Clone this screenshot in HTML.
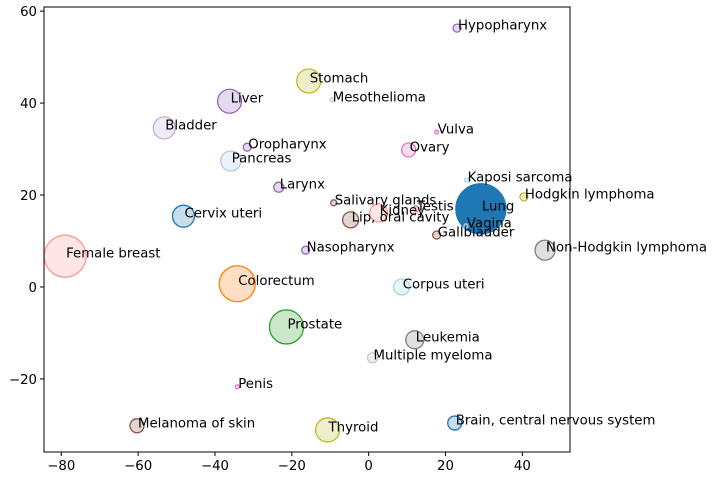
<!DOCTYPE html>
<html><head><meta charset="utf-8"><style>
body{margin:0;background:#fff}
svg text{font-family:"DejaVu Sans","Liberation Sans",sans-serif;font-size:13.3px;fill:#000}
</style></head><body>
<svg id="chart" width="718" height="479" xmlns="http://www.w3.org/2000/svg"></svg>
<script>
const names=["Hypopharynx","Stomach","Mesothelioma","Liver","Bladder","Vulva","Oropharynx","Ovary","Pancreas","Kaposi sarcoma","Larynx","Hodgkin lymphoma","Salivary glands","Vagina","Lung","Cervix uteri","Kidney","Testis","Lip, oral cavity","Gallbladder","Non-Hodgkin lymphoma","Female breast","Nasopharynx","Colorectum","Corpus uteri","Prostate","Leukemia","Multiple myeloma","Penis","Melanoma of skin","Thyroid","Brain, central nervous system"];
const xVals=[23.0,-15.6,-9.6,-36.2,-53.2,17.7,-31.6,10.4,-35.9,25.5,-23.4,40.4,-9.1,25.3,29.2,-48.2,2.6,12.3,-4.7,17.7,45.9,-79.0,-16.4,-34.2,8.6,-21.4,12.0,1.0,-34.2,-60.3,-10.7,22.4];
const yVals=[56.3,44.8,40.7,40.4,34.6,33.7,30.4,29.8,27.4,23.3,21.7,19.6,18.3,13.3,17.0,15.4,16.1,17.0,14.6,11.3,8.0,6.7,8.0,0.7,0,-8.7,-11.5,-15.4,-21.7,-30.2,-31.1,-29.6];
const sizes=[4,12,2,12,11,2,4,7,10,2,5,4,3,2,25,11,9,3,8,4,10,21,4,18,8,17,9,5,2,7,12,7];
const colors=["#9467bd","#bcbd22","#c7c7c7","#9467bd","#c5b0d5","#e377c2","#9467bd","#e377c2","#aec7e8","#9edae5","#9467bd","#bcbd22","#8c564b","#9edae5","#1f77b4","#1f77b4","#ff9896","#e377c2","#8c564b","#8c564b","#7f7f7f","#ff9896","#9467bd","#ff7f0e","#9edae5","#2ca02c","#7f7f7f","#c7c7c7","#e377c2","#8c564b","#bcbd22","#1f77b4"];
const xTicks=[-80,-60,-40,-20,0,20,40];
const yTicks=[-20,0,20,40,60];
const svg=document.getElementById('chart');
const NS='http://www.w3.org/2000/svg';
const L=44,R=570,T=7,B=452;
const X0=-84.5,X1=52.4,Y0=-35.9,Y1=60.9;
const sx=v=>L+(v-X0)/(X1-X0)*(R-L);
const sy=v=>B-(v-Y0)/(Y1-Y0)*(B-T);
function mk(tag,attrs){const e=document.createElementNS(NS,tag);for(const k in attrs)e.setAttribute(k,attrs[k]);svg.appendChild(e);return e;}
const order=names.map((n,i)=>i).sort((a,b)=>sizes[b]-sizes[a]);
order.forEach(i=>{
  const c=mk('circle',{cx:sx(xVals[i]),cy:sy(yVals[i]),r:sizes[i],fill:colors[i],'fill-opacity':i===14?1:0.25,stroke:colors[i],'stroke-width':1.3});
  
  
});
names.forEach((n,i)=>{
  const t=mk('text',{x:sx(xVals[i])+1,y:sy(yVals[i])+1.5});
  t.textContent=n;
  
  
});
const frame=mk('rect',{x:L,y:T,width:R-L,height:B-T,fill:'none',stroke:'#000','stroke-width':1});


xTicks.forEach(v=>{
  mk('line',{x1:sx(v),x2:sx(v),y1:B,y2:B+4,stroke:'#000'});
  const t=mk('text',{x:sx(v),y:B+18,'text-anchor':'middle'});
  t.textContent=String(v).replace('-','\u2212');
  
  
});
yTicks.forEach(v=>{
  mk('line',{x1:L-4,x2:L,y1:sy(v),y2:sy(v),stroke:'#000'});
  const t=mk('text',{x:L-7,y:sy(v)+5,'text-anchor':'end'});
  t.textContent=String(v).replace('-','\u2212');
  
  
});
</script>
</body></html>
